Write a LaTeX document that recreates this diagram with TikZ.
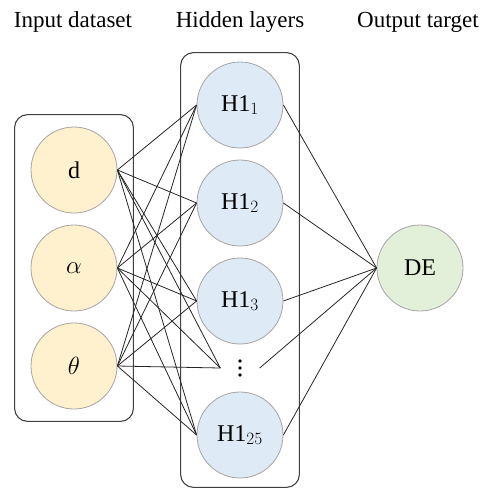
\documentclass[tikz,border=0pt]{standalone}
\usepackage{fontspec}
\setmainfont{Liberation Serif}
\usepackage{tikz}
\usetikzlibrary{positioning,fit,calc}
\definecolor{inyellow}{RGB}{255,240,206}
\definecolor{hidblue}{RGB}{222,234,246}
\definecolor{outgreen}{RGB}{226,240,217}
\definecolor{rimgray}{RGB}{165,165,165}

\begin{document}
\begin{tikzpicture}[x=1pt,y=1pt]
\tikzstyle{main}=[circle, draw=rimgray, line width=0.8pt, minimum size=86pt, inner sep=0pt, node distance=98pt, font=\fontsize{24}{28}\selectfont]
\tikzstyle{inp}=[main, fill=inyellow]
\tikzstyle{hid}=[main, fill=hidblue]
\tikzstyle{outp}=[main, fill=outgreen]
\tikzstyle{connect}=[line width=0.8pt, black!85]
\tikzstyle{box}=[rectangle, rounded corners=13pt, draw=black!75, line width=1.1pt]
\tikzstyle{title}=[font=\fontsize{23}{27}\selectfont]

\useasboundingbox (0,0) rectangle (481,-488);

  % input layer
  \node[inp] (d)     at (74,-170)       {d};
  \node[inp] (alpha) [below of =d]     {$\alpha$};
  \node[inp] (theta) [below of =alpha] {$\theta$};

  % hidden layer
  \node[hid] (h1)   at (240,-105)        {H1$_1$};
  \node[hid] (h2)   [below of =h1]       {H1$_2$};
  \node[hid] (h3)   [below of =h2]       {H1$_3$};
  \node[minimum width=39pt, minimum height=20pt, inner sep=0pt] (hdots) at (240,-368) {};
  \node[hid] (h25)  at (240,-435)        {H1$_{25}$};
  \foreach \k in {-7,0,7}
    \fill (hdots.center) ++(0,\k) circle (1.9pt);

  % output
  \node[outp] (de) at (420,-268) {DE};

  \node[box, inner xsep=16pt, inner ysep=12pt, fit=(d)(theta)] (inbox) {};
  \node[box, inner xsep=16pt, inner ysep=9pt, fit=(h1)(h25)] (hidbox) {};

  \node[title] (tin)  at (73,-22)  {Input dataset};
  \node[title] (thid) at (240,-22) {Hidden layers};
  \node[title] (tout) at (418,-22) {Output target};

  \foreach \i in {d,alpha,theta}{
    \foreach \j in {h1,h2,h3,h25}
      \path (\i.east) edge [connect] (\j.west);
    \path (\i.east) edge [connect] (hdots.west);
  }
  \foreach \j in {h1,h2,h3,h25}
    \path (\j.east) edge [connect] (de.west);
  \path (hdots.east) edge [connect] (de.west);

\end{tikzpicture}
\end{document}
